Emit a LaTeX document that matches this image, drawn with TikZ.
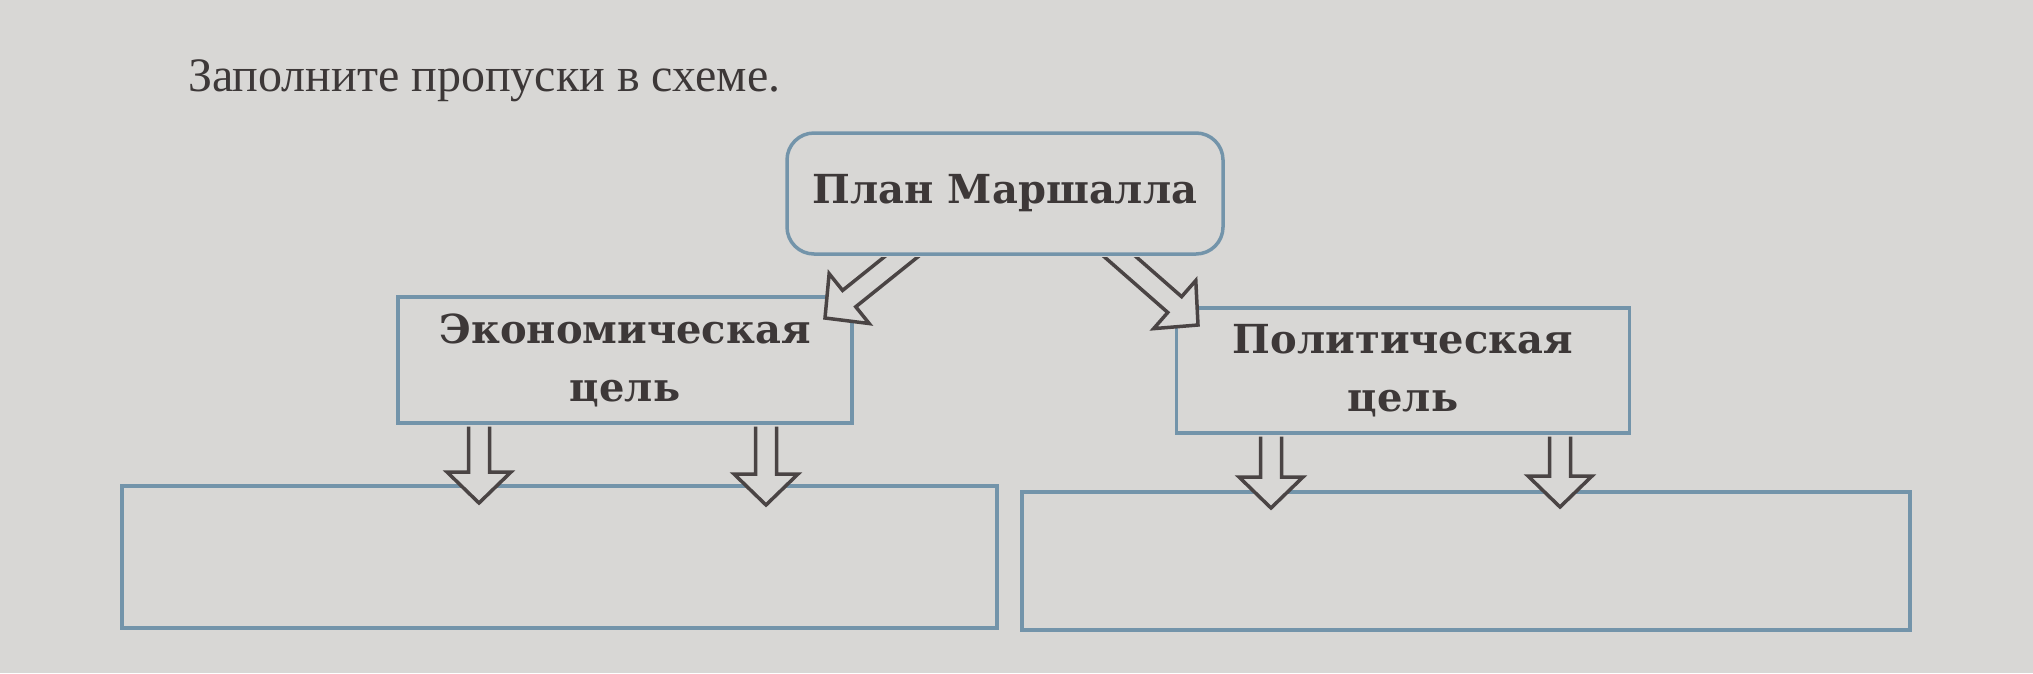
\documentclass[tikz,border=0pt]{standalone}
\usepackage{fontspec}
\setmainfont{Liberation Serif}
\newfontfamily\boxfont{DejaVu Serif}
\usetikzlibrary{calc}
\definecolor{bg}{HTML}{D8D7D5}
\definecolor{boxblue}{HTML}{7394AA}
\definecolor{ink}{HTML}{3D3838}
\definecolor{arrowink}{HTML}{4A4444}
\tikzset{
  box/.style={draw=boxblue, line width=3.5pt, inner sep=0pt, text=ink, align=center,
    font=\boxfont\bfseries\fontsize{40}{58}\selectfont},
  blockarrow/.style={draw=arrowink, fill=bg, line width=3.5pt, line join=miter},
}
\newcommand\shaftw{10.5pt}
\newcommand\headw{32pt}
\newcommand\headl{31pt}
% #1 tail, #2 tip, #3 extension of the tail backwards
\newcommand\blkarrow[3]{%
  \filldraw[blockarrow] let \p1=(#1), \p2=(#2), \n1={atan2(\y2-\y1,\x2-\x1)} in
    ($(\p1)+(\n1+180:#3)+(\n1+90:\shaftw)$)
    -- ($(\p2)+(\n1+180:\headl)+(\n1+90:\shaftw)$)
    -- ($(\p2)+(\n1+180:\headl)+(\n1+90:\headw)$)
    -- (\p2)
    -- ($(\p2)+(\n1+180:\headl)+(\n1-90:\headw)$)
    -- ($(\p2)+(\n1+180:\headl)+(\n1-90:\shaftw)$)
    -- ($(\p1)+(\n1+180:#3)+(\n1-90:\shaftw)$);
}
\begin{document}
\begin{tikzpicture}[x=1pt,y=-1pt]
  \coordinate (L) at (0,0);
  \coordinate (R) at (2033,673);
  \fill[bg] (L) rectangle (R);
  \useasboundingbox (L) rectangle (R);

  \node[anchor=base west, text=ink, inner sep=0pt, font=\fontsize{48}{58}\selectfont]
    (title) at (188,91) {Заполните пропуски в схеме.};

  \node[box, rounded corners=27pt, minimum width=436pt, minimum height=121pt]
    (plan) at (1005,193.5) {План Маршалла};
  \node[box, minimum width=454pt, minimum height=126pt] (eco) at (625,360) {Экономическая\\цель};
  \node[box, minimum width=453pt, minimum height=125pt] (pol) at (1403,370.5) {Политическая\\цель};
  \node[box, minimum width=875pt, minimum height=142pt] (b1) at (559.5,557) {};
  \node[box, minimum width=888pt, minimum height=138pt] (b2) at (1466,561) {};

  % tips of the arrows
  \coordinate (e1) at (479,503);
  \coordinate (e2) at (766,505);
  \coordinate (p1) at (1271,508);
  \coordinate (p2) at (1560,507);
  \coordinate (d1) at (825,318);
  \coordinate (d2) at (1198,325);
  \coordinate (d1x) at (902.5,0);
  \coordinate (d2x) at (1119,0);

  \blkarrow{eco.south -| e1}{e1}{-1.75pt}
  \blkarrow{eco.south -| e2}{e2}{-1.75pt}
  \blkarrow{pol.south -| p1}{p1}{-1.75pt}
  \blkarrow{pol.south -| p2}{p2}{-1.75pt}

  \begin{scope}
    \clip ($(L |- plan.south)+(0,1.75)$) rectangle (R);
    \blkarrow{plan.south -| d1x}{d1}{25pt}
    \blkarrow{plan.south -| d2x}{d2}{25pt}
  \end{scope}
\end{tikzpicture}
\end{document}
